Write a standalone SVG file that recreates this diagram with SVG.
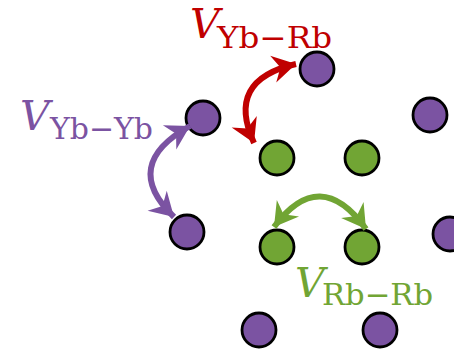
<svg xmlns="http://www.w3.org/2000/svg" width="454" height="353" viewBox="0 0 454 353">
<style>
.yb{fill:#7B53A2;stroke:#000;stroke-width:2.8}
.rb{fill:#71A534;stroke:#000;stroke-width:2.8}
.v{font-family:"DejaVu Serif",serif;font-style:italic;font-size:41px}
.s{font-family:"DejaVu Serif",serif;font-size:30px}
.arr{fill:none;stroke-width:6;stroke-linecap:butt}
</style>
<defs>
<marker id="hr" markerUnits="userSpaceOnUse" markerWidth="34" markerHeight="34" viewBox="-28 -16 32 32" refX="2" refY="0" orient="auto-start-reverse"><path d="M2,0 L-20,-13 L-13,0 L-20,13 Z" fill="#C00000"/></marker>
<marker id="hp" markerUnits="userSpaceOnUse" markerWidth="34" markerHeight="34" viewBox="-28 -16 32 32" refX="2" refY="0" orient="auto-start-reverse"><path d="M2,0 L-20,-13 L-13,0 L-20,13 Z" fill="#7B53A2"/></marker>
<marker id="hg" markerUnits="userSpaceOnUse" markerWidth="34" markerHeight="34" viewBox="-28 -16 32 32" refX="2" refY="0" orient="auto-start-reverse"><path d="M2,0 L-20,-13 L-13,0 L-20,13 Z" fill="#71A534"/></marker>
</defs>
<g id="atoms-yb">
<circle id="yb1" class="yb" cx="317" cy="69" r="17"/>
<circle id="yb2" class="yb" cx="203" cy="118" r="17"/>
<circle id="yb3" class="yb" cx="430" cy="115" r="17"/>
<circle id="yb4" class="yb" cx="187" cy="232" r="17"/>
<circle id="yb5" class="yb" cx="450" cy="234" r="17"/>
<circle id="yb6" class="yb" cx="259" cy="330" r="17"/>
<circle id="yb7" class="yb" cx="380" cy="330" r="17"/>
</g>
<g id="atoms-rb">
<circle id="rb1" class="rb" cx="277" cy="158" r="17"/>
<circle id="rb2" class="rb" cx="362" cy="158" r="17"/>
<circle id="rb3" class="rb" cx="277" cy="247" r="17"/>
<circle id="rb4" class="rb" cx="362" cy="247" r="17"/>
</g>
<g id="connectors">
<path class="arr" stroke="#C00000" d="M296 64 Q225 80 254 143" marker-start="url(#hr)" marker-end="url(#hr)"/>
<path class="arr" stroke="#7B53A2" d="M190 126 Q120 165 174 217" marker-start="url(#hp)" marker-end="url(#hp)"/>
<path class="arr" stroke="#71A534" d="M274 227 Q320 165 366 229" marker-start="url(#hg)" marker-end="url(#hg)"/>
</g>
<g id="labels">
<text class="v" x="190" y="38" fill="#C00000">V</text>
<text class="s" x="217" y="48" fill="#C00000" textLength="115" lengthAdjust="spacingAndGlyphs">Yb−Rb</text>
<text class="v" x="20" y="130" fill="#7B53A2">V</text>
<text class="s" x="50" y="139" fill="#7B53A2" textLength="103" lengthAdjust="spacingAndGlyphs">Yb−Yb</text>
<text class="v" x="295" y="297" fill="#71A534">V</text>
<text class="s" x="322" y="305" fill="#71A534" textLength="111" lengthAdjust="spacingAndGlyphs">Rb−Rb</text>
</g>
</svg>
